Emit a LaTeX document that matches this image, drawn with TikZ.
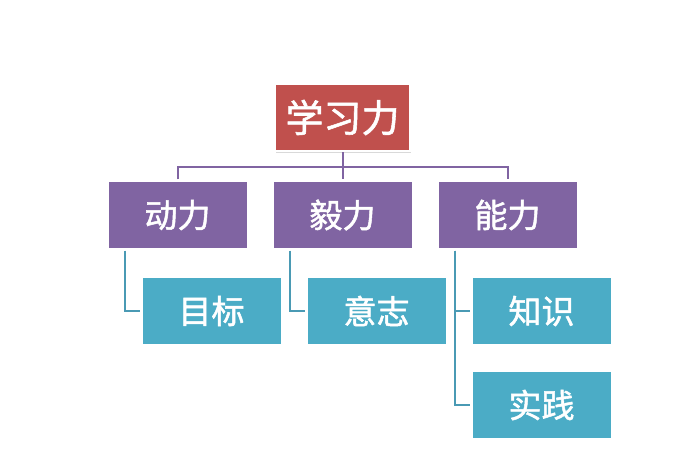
\documentclass[tikz,border=0pt]{standalone}
\usepackage{fontspec}
\newfontfamily\cjk{Noto Sans CJK SC}[BoldFont={Noto Sans CJK SC}, BoldFeatures={FakeBold=1.5}]
\usetikzlibrary{positioning, shadows}
\definecolor{titlered}{HTML}{C0504D}
\definecolor{midpurple}{HTML}{8064A2}
\definecolor{leafteal}{HTML}{4BACC6}
\definecolor{linkteal}{HTML}{4A9AB4}
\tikzset{
  box/.style={
    draw=white, line width=2.5pt,
    minimum width=140.5pt, minimum height=68.5pt,
    text=white, font=\cjk\bfseries\fontsize{33}{35}\selectfont,
    drop shadow={shadow xshift=1pt, shadow yshift=-1.5pt, opacity=0.3}
  },
  rootbox/.style={box, fill=titlered,
    minimum width=135.5pt, minimum height=67.5pt,
    font=\cjk\bfseries\fontsize{38}{40}\selectfont},
  midbox/.style={box, fill=midpurple},
  leafbox/.style={box, fill=leafteal},
  trunk/.style={draw=midpurple, line width=2pt},
  branch/.style={draw=linkteal, line width=2pt},
}

\begin{document}
\begin{tikzpicture}[x=1pt, y=-1pt]
  \useasboundingbox (0,0) rectangle (700,470);

  \node[rootbox] (root) at (342.5,117.5) {学习力};

  \node[midbox, below=27pt of root] (yili) {毅力};
  \node[midbox, left=22pt of yili] (dongli) {动力};
  \node[midbox, right=22pt of yili] (nengli) {能力};

  \node[leafbox, below=25pt of dongli, xshift=34pt] (mubiao) {目标};
  \node[leafbox, below=25pt of yili, xshift=34pt] (yizhi) {意志};
  \node[leafbox, below=25pt of nengli, xshift=34pt] (zhishi) {知识};
  \node[leafbox, below=23pt of zhishi] (shijian) {实践};

  \coordinate (bus) at (342.5,167);
  \draw[trunk] (root.south) -- (yili.north);
  \draw[trunk] (dongli.north) |- (bus) -| (nengli.north);

  \draw[branch] ([xshift=18.5pt]dongli.south west) |- (mubiao.west);
  \draw[branch] ([xshift=18.5pt]yili.south west) |- (yizhi.west);
  \draw[branch] ([xshift=19pt]nengli.south west) |- (zhishi.west);
  \draw[branch] ([xshift=19pt]nengli.south west) |- (shijian.west);
\end{tikzpicture}
\end{document}
